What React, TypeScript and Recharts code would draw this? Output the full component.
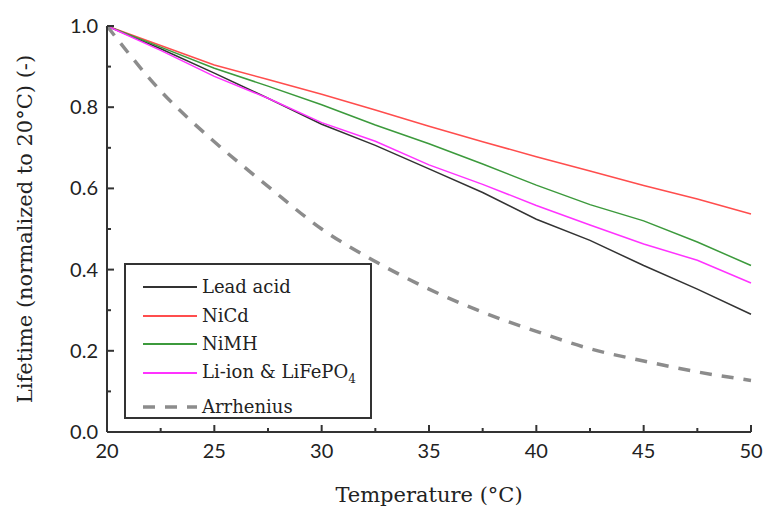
import React from 'react';
import { LineChart, Line, XAxis, YAxis } from 'recharts';

const temperature = [20, 22.5, 25, 27.5, 30, 32.5, 35, 37.5, 40, 42.5, 45, 47.5, 50];
const leadAcid = [1.0, 0.944, 0.884, 0.822, 0.758, 0.706, 0.648, 0.59, 0.524, 0.472, 0.41, 0.352, 0.29];
const niCd = [1.0, 0.952, 0.904, 0.868, 0.832, 0.793, 0.753, 0.715, 0.678, 0.643, 0.607, 0.574, 0.537];
const niMH = [1.0, 0.948, 0.896, 0.852, 0.806, 0.756, 0.71, 0.66, 0.608, 0.56, 0.52, 0.468, 0.41];
const liIon = [1.0, 0.94, 0.876, 0.822, 0.762, 0.716, 0.658, 0.61, 0.558, 0.51, 0.463, 0.423, 0.367];
const arrhenius = [1.0, 0.84, 0.715, 0.605, 0.5, 0.42, 0.352, 0.295, 0.248, 0.205, 0.175, 0.148, 0.127];

const xTicks = [20, 22.5, 25, 27.5, 30, 32.5, 35, 37.5, 40, 42.5, 45, 47.5, 50];
const xMajor = [20, 25, 30, 35, 40, 45, 50];
const yTicks = [0, 0.1, 0.2, 0.3, 0.4, 0.5, 0.6, 0.7, 0.8, 0.9, 1.0];
const yMajor = [0, 0.2, 0.4, 0.6, 0.8, 1.0];

const data = temperature.map((t, i) => ({
  t,
  lead: leadAcid[i],
  nicd: niCd[i],
  nimh: niMH[i],
  liion: liIon[i],
  arr: arrhenius[i],
}));

const SERIF = '"DejaVu Serif", "Liberation Serif", serif';
const SANS = 'Lato, "Open Sans", sans-serif';
const FRAME = '#333';

const series = [
  { key: 'lead', name: 'Lead acid', color: '#333333', width: 1.5, dash: undefined },
  { key: 'nicd', name: 'NiCd', color: '#ff4d4d', width: 1.5, dash: undefined },
  { key: 'nimh', name: 'NiMH', color: '#3c9a3c', width: 1.5, dash: undefined },
  { key: 'liion', name: 'Li-ion & LiFePO', color: '#ff33ff', width: 1.5, dash: undefined },
  { key: 'arr', name: 'Arrhenius', color: '#8c8c8c', width: 3.5, dash: '12 10' },
];

function BottomTick(props: any) {
  const { x, y, payload } = props;
  const major = xMajor.includes(payload.value);
  return (
    <g>
      <line x1={x} x2={x} y1={y} y2={y - (major ? 7 : 4)} stroke={FRAME} strokeWidth={2} />
      {major && (
        <text x={x} y={y + 26} textAnchor="middle" fontFamily={SANS} fontSize={20} fill="#222">
          {payload.value}
        </text>
      )}
    </g>
  );
}

function TopTick(props: any) {
  const { x, y, payload } = props;
  const major = xMajor.includes(payload.value);
  return <line x1={x} x2={x} y1={y} y2={y + (major ? 7 : 4)} stroke={FRAME} strokeWidth={2} />;
}

function LeftTick(props: any) {
  const { x, y, payload } = props;
  const major = yMajor.some((v) => Math.abs(v - payload.value) < 1e-6);
  return (
    <g>
      <line x1={x} x2={x + (major ? 7 : 4)} y1={y} y2={y} stroke={FRAME} strokeWidth={2} />
      {major && (
        <text x={x - 9} y={y + 7} textAnchor="end" fontFamily={SANS} fontSize={20} fill="#222">
          {payload.value.toFixed(1)}
        </text>
      )}
    </g>
  );
}

function RightTick(props: any) {
  const { x, y, payload } = props;
  const major = yMajor.some((v) => Math.abs(v - payload.value) < 1e-6);
  return <line x1={x} x2={x - (major ? 7 : 4)} y1={y} y2={y} stroke={FRAME} strokeWidth={2} />;
}

function LegendBox() {
  const rowTops = [8, 37, 65, 94, 128];
  return (
    <div
      style={{
        position: 'absolute',
        left: 124,
        top: 263,
        width: 248,
        height: 156,
        boxSizing: 'border-box',
        border: `2px solid ${FRAME}`,
        background: '#fff',
        fontFamily: SERIF,
        fontSize: 18,
        color: '#222',
      }}
    >
      {series.map((s, i) => (
        <div
          key={s.key}
          style={{ position: 'absolute', left: 17, top: rowTops[i], height: 28, display: 'flex', alignItems: 'center' }}
        >
          <svg width={54} height={10} style={{ display: 'block' }}>
            <line x1={0} x2={54} y1={5} y2={5} stroke={s.color} strokeWidth={s.dash ? 3.5 : 2} strokeDasharray={s.dash} />
          </svg>
          <span style={{ marginLeft: 5, whiteSpace: 'nowrap', lineHeight: '28px' }}>
            {s.name}
            {s.key === 'liion' && (
              <span style={{ fontSize: 12, position: 'relative', top: 5 }}>4</span>
            )}
          </span>
        </div>
      ))}
    </div>
  );
}

export default function App() {
  return (
    <div style={{ position: 'absolute', left: 0, top: 0, width: 764, height: 508, background: '#fff' }}>
      <LineChart width={764} height={508} data={data} margin={{ top: 26, right: 13, bottom: 0, left: 0 }}>
        <XAxis
          dataKey="t"
          type="number"
          domain={[20, 50]}
          ticks={xTicks}
          interval={0}
          tickSize={0}
          tickMargin={0}
          tickLine={false}
          axisLine={{ stroke: FRAME, strokeWidth: 2 }}
          height={76}
          tick={<BottomTick />}
          label={{
            content: (p: any) => {
              const vb = p.viewBox || { x: 107, y: 432, width: 644, height: 76 };
              return (
                <text x={vb.x + vb.width / 2} y={502} textAnchor="middle" fontFamily={SERIF} fontSize={21} fill="#222">
                  Temperature (°C)
                </text>
              );
            },
          }}
        />
        <XAxis
          xAxisId="top"
          orientation="top"
          dataKey="t"
          type="number"
          domain={[20, 50]}
          ticks={xTicks}
          interval={0}
          tickSize={0}
          tickMargin={0}
          tickLine={false}
          axisLine={{ stroke: FRAME, strokeWidth: 2 }}
          height={0}
          tick={<TopTick />}
        />
        <YAxis
          type="number"
          domain={[0, 1]}
          ticks={yTicks}
          interval={0}
          tickSize={0}
          tickMargin={0}
          tickLine={false}
          axisLine={{ stroke: FRAME, strokeWidth: 2 }}
          width={107}
          tick={<LeftTick />}
          label={{
            content: (p: any) => {
              const vb = p.viewBox || { x: 0, y: 26, width: 107, height: 406 };
              const cy = vb.y + vb.height / 2;
              return (
                <text
                  x={25}
                  y={cy}
                  transform={`rotate(-90, 25, ${cy})`}
                  textAnchor="middle"
                  dominantBaseline="central"
                  fontFamily={SERIF}
                  fontSize={21}
                  fill="#222"
                >
                  Lifetime (normalized to 20°C) (-)
                </text>
              );
            },
          }}
        />
        <YAxis
          yAxisId="right"
          orientation="right"
          type="number"
          domain={[0, 1]}
          ticks={yTicks}
          interval={0}
          tickSize={0}
          tickMargin={0}
          tickLine={false}
          axisLine={{ stroke: FRAME, strokeWidth: 2 }}
          width={0}
          tick={<RightTick />}
        />
        {series.map((s) => (
          <Line
            key={s.key}
            dataKey={s.key}
            type={s.dash ? 'monotone' : 'linear'}
            stroke={s.color}
            strokeWidth={s.width}
            strokeDasharray={s.dash}
            dot={false}
            activeDot={false}
            isAnimationActive={false}
          />
        ))}
      </LineChart>
      <LegendBox />
    </div>
  );
}
